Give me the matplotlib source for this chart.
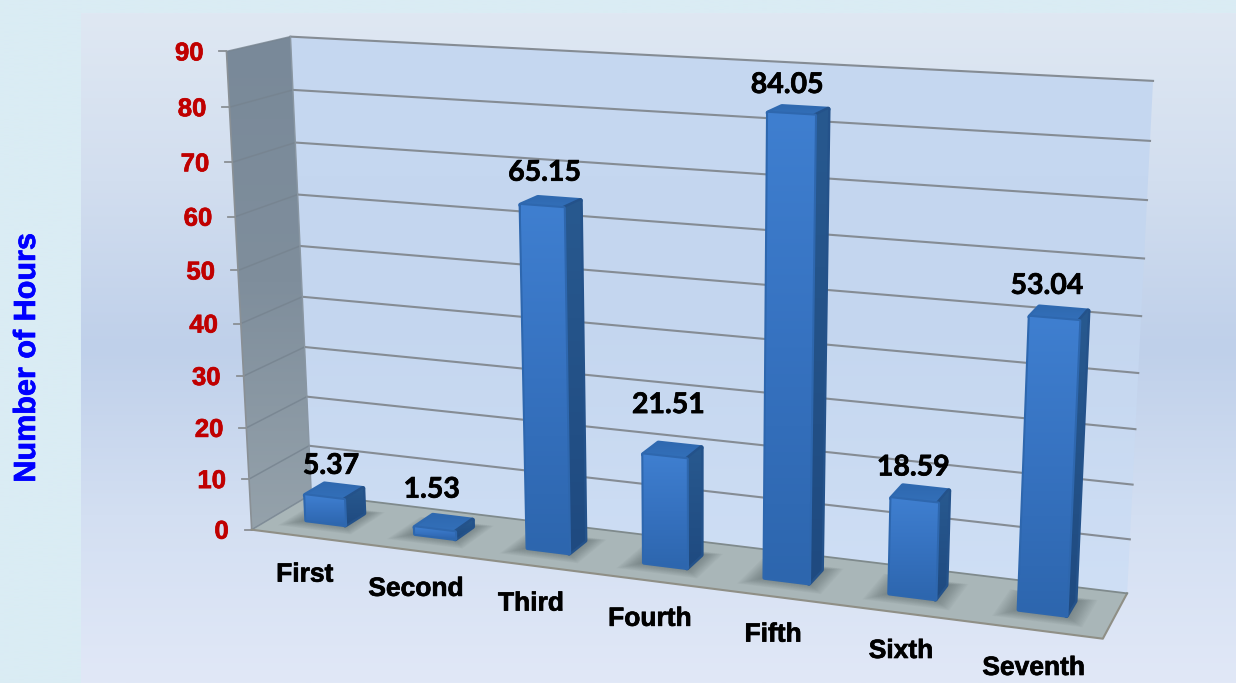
import numpy as np
import matplotlib
matplotlib.use('Agg')
import matplotlib.pyplot as plt
import matplotlib.patheffects as pe
from matplotlib.colors import LinearSegmentedColormap
from matplotlib.patches import Polygon

categories = ['First', 'Second', 'Third', 'Fourth', 'Fifth', 'Sixth', 'Seventh']
value_labels = ['5.37', '1.53', '65.15', '21.51', '84.05', '18.59', '53.04']
# heights as drawn in the picture, read against the gridlines
bar_heights = [5.0, 1.3, 64.3, 20.5, 83.3, 17.5, 51.8]
y_ticks = [0, 10, 20, 30, 40, 50, 60, 70, 80, 90]

W, H = 1236, 683
N = len(categories)

fig = plt.figure(figsize=(W / 100, H / 100), dpi=100)
ax = fig.add_axes([0, 0, 1, 1])
ax.set_xlim(0, W)
ax.set_ylim(H, 0)
ax.axis('off')

# Fit a camera from the corners of the chart box: (category, depth, value) -> pixels
world = np.array([[0, 0, 0], [0, 0, 90], [0, 1, 0], [0, 1, 90],
                  [7, 1, 90], [7, 1, 0], [7, 0, 0]], float)
image = np.array([[252, 528], [226, 52], [311, 496], [291, 36],
                  [1153, 81], [1127, 592], [1103, 640]], float)
rows, rhs = [], []
for (a, b, c), (u, v) in zip(world, image):
    rows.append([a, b, c, 1, 0, 0, 0, 0, -u * a, -u * b, -u * c])
    rows.append([0, 0, 0, 0, a, b, c, 1, -v * a, -v * b, -v * c])
    rhs += [u, v]
cam = np.append(np.linalg.lstsq(np.array(rows), np.array(rhs), rcond=None)[0], 1).reshape(3, 4)


def project(x, d, y):
    p = cam @ np.array([x, d, y, 1.0])
    return p[0] / p[2], p[1] / p[2]


def gradient_poly(pts, colors, z, vertical=True, lw=0, edge=None):
    pts = np.array(pts)
    cmap = LinearSegmentedColormap.from_list('g', colors)
    grad = np.linspace(0, 1, 256)
    grad = grad[:, None] if vertical else grad[None, :]
    x0, x1 = pts[:, 0].min(), pts[:, 0].max()
    y0, y1 = pts[:, 1].min(), pts[:, 1].max()
    if lw:
        ax.add_patch(Polygon(pts, closed=True, fc=edge, ec=edge, lw=lw, joinstyle='round', zorder=z))
    im = ax.imshow(grad, cmap=cmap, extent=(x0, x1, y1, y0), aspect='auto', zorder=z + 0.01,
                   interpolation='bilinear', vmin=0, vmax=1)
    clip = Polygon(pts, closed=True, transform=ax.transData, fc='none', ec='none')
    ax.add_patch(clip)
    im.set_clip_path(clip)
    return im


heavy = [pe.withStroke(linewidth=0.5, foreground='black')]

# background
gradient_poly([(0, 0), (W, 0), (W, H), (0, H)], ['#daecf4', '#daecf4'], 0)
gradient_poly([(81, 13), (W, 13), (W, H), (81, H)],
              ['#dfe8f3', '#d2deef', '#bfd0ea', '#d3dff2', '#e1e8f7'], 1)

# walls and floor
fl, bl = project(0, 0, 0), project(0, 1, 0)
br, fr = project(7, 1, 0), project(7, 0, 0)
tl, tr = project(0, 1, 90), project(7, 1, 90)
ftl = project(0, 0, 90)
gradient_poly([tl, tr, br, bl], ['#c6d8f1', '#c4d6ef', '#cfdff5'], 2)
gradient_poly([ftl, tl, bl, fl], ['#798999', '#7f8e9c', '#95a2ab'], 2)
floor = Polygon([fl, bl, br, fr], closed=True, fc='#a9b6b8', ec='none', zorder=2)
ax.add_patch(floor)

# gridlines, ticks and value axis labels
for v in y_ticks:
    a, b, c = project(0, 0, v), project(0, 1, v), project(7, 1, v)
    if v > 0:
        ax.plot([b[0], c[0]], [b[1], c[1]], color='#858c94', lw=1.5, zorder=3)
    ax.plot([a[0], b[0]], [a[1], b[1]], color='#76838f', lw=1.1, alpha=0.8, zorder=3)
    ax.plot([a[0] - 7, a[0]], [a[1], a[1]], color='#8a8f94', lw=1.3, zorder=3)
    t = ax.text(a[0] - 23, a[1] + 2, str(v), ha='right', va='center', color='#c00000',
                fontsize=18.5, fontweight='bold', family='Liberation Sans', zorder=6)
    t.set_path_effects([pe.withStroke(linewidth=0.5, foreground='#c00000')])
ax.plot([ftl[0], fl[0]], [ftl[1], fl[1]], color='#8a9095', lw=1.2, zorder=3)
ax.plot([tl[0], bl[0]], [tl[1], bl[1]], color='#8a97a3', lw=1.0, zorder=3)
ax.plot([fl[0], fr[0], br[0]], [fl[1], fr[1], br[1]], color='#8f8f86', lw=1.5, zorder=3)
ax.plot([bl[0], br[0]], [bl[1], br[1]], color='#7f8a8c', lw=1.3, zorder=3)

# bars
CENTER = 0.48
HALF_W = 0.18
D0, D1 = 0.37, 0.70
# label placement relative to the bar top, pixels
label_dx = [-3, -12, -6, -4, -11, -7, -12]
label_dy = [-26, -34, -30, -46, -26, -27, -28]
for i, (h, lab, name) in enumerate(zip(bar_heights, value_labels, categories)):
    x0, x1 = i + CENTER - HALF_W, i + CENTER + HALF_W

    # soft shadow on the floor
    for k in range(14):
        g = 0.014 * (14 - k)
        p = Polygon([project(x0 - g * 0.8, D0 - g, 0), project(x1 + g * 0.8, D0 - g, 0),
                     project(x1 + g * 0.8, D1 + g * 0.4, 0), project(x0 - g * 0.8, D1 + g * 0.4, 0)],
                    closed=True, fc='#4a5558', ec='none', alpha=0.045, zorder=3.5)
        ax.add_patch(p)
        p.set_clip_path(floor)

    top = [project(x0, D0, h), project(x1, D0, h), project(x1, D1, h), project(x0, D1, h)]
    side = [project(x1, D0, 0), project(x1, D1, 0), project(x1, D1, h), project(x1, D0, h)]
    front = [project(x0, D0, 0), project(x1, D0, 0), project(x1, D0, h), project(x0, D0, h)]
    gradient_poly(top, ['#2f69b0', '#3370ba'], 4, lw=3.5, edge='#2f69b0')
    gradient_poly(side, ['#28598f', '#1f4a80'], 4.1, lw=3.5, edge='#24528a')
    gradient_poly(front, ['#3f7fd0', '#3672c0', '#2d66ae'], 4.2, lw=3.0, edge='#2e67ae')

    # value label above the bar
    cx, cy = project(i + CENTER, (D0 + D1) / 2, h)
    t = ax.text(cx + label_dx[i], cy + label_dy[i], lab, ha='center', va='center', color='black',
                fontsize=20.5, fontweight='bold', family='Lato', zorder=7)
    t.set_path_effects(heavy)

    # category label under the floor edge
    lx, ly = project(i + 0.5, 0, 0)
    t = ax.text(lx - 1, ly + 38, name, ha='center', va='center', color='black',
                fontsize=19, fontweight='bold', family='Liberation Sans', zorder=7)
    t.set_path_effects(heavy)

t = ax.text(27, 358, 'Number of Hours', rotation=90, ha='center', va='center', color='#0000ff',
            fontsize=22, fontweight='bold', family='Liberation Sans', zorder=7)
t.set_path_effects([pe.withStroke(linewidth=0.5, foreground='#0000ff')])

ax.set_xlim(0, W)
ax.set_ylim(H, 0)
fig.savefig('out.png', dpi=100)
